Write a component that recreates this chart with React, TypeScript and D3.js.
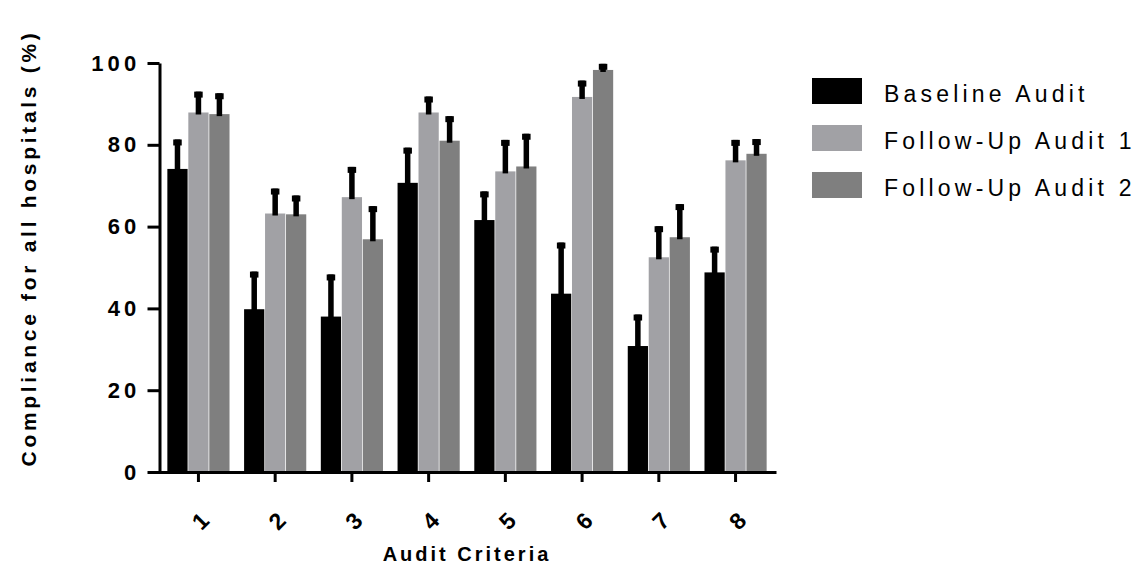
import { useEffect, useRef } from "react";
import * as d3 from "d3";

// audit criteria on the x axis
const categories = ["1", "2", "3", "4", "5", "6", "7", "8"];
const seriesNames = ["Baseline Audit", "Follow-Up Audit 1", "Follow-Up Audit 2"];
const seriesColors = ["#000000", "#A1A1A5", "#7F7F7F"];

// compliance (%) and upper error (SD) per criterion
const baseline = [74.1, 39.8, 38.0, 70.7, 61.6, 43.6, 30.8, 48.8];
const baselineErr = [7.2, 9.2, 10.3, 8.6, 7.0, 12.5, 7.7, 6.3];
const followUp1 = [87.9, 63.2, 67.2, 87.9, 73.5, 91.7, 52.5, 76.2];
const followUp1Err = [5.1, 6.1, 7.4, 3.9, 7.7, 4.0, 7.6, 5.0];
const followUp2 = [87.5, 63.0, 56.9, 81.0, 74.7, 98.3, 57.4, 77.8];
const followUp2Err = [5.1, 4.6, 8.1, 6.0, 8.0, 1.5, 8.1, 3.6];

const yTicks = [0, 20, 40, 60, 80, 100];

const FONT = "'Liberation Sans', Arial, Helvetica, sans-serif";

export default function App() {
  const ref = useRef<SVGSVGElement>(null);

  useEffect(() => {
    const width = 1142,
      height = 583;
    const svg = d3.select(ref.current).attr("width", width).attr("height", height);
    svg.selectAll("*").remove();

    const values = [baseline, followUp1, followUp2];
    const errors = [baselineErr, followUp1Err, followUp2Err];

    const y = d3.scaleLinear().domain([0, 100]).range([472, 63]);
    const x0 = d3
      .scaleBand()
      .domain(categories)
      .range([158, 776])
      .paddingInner(0.19)
      .paddingOuter(0.122);
    const x1 = d3
      .scaleBand()
      .domain(seriesNames)
      .range([0, x0.bandwidth()])
      .paddingInner(0.035);

    // bars
    const groups = svg
      .append("g")
      .selectAll("g")
      .data(categories)
      .enter()
      .append("g")
      .attr("transform", (d) => "translate(" + x0(d) + ",0)");

    seriesNames.forEach((name, s) => {
      groups
        .append("rect")
        .attr("x", x1(name)!)
        .attr("y", (d, i) => y(values[s][i]))
        .attr("width", x1.bandwidth())
        .attr("height", (d, i) => y(0) - y(values[s][i]))
        .attr("fill", seriesColors[s]);
    });

    // error bars (upper only)
    seriesNames.forEach((name, s) => {
      const cx = x1(name)! + x1.bandwidth() / 2;
      groups
        .append("rect")
        .attr("x", cx - 2.75)
        .attr("y", (d, i) => y(values[s][i] + errors[s][i]))
        .attr("width", 5.5)
        .attr("height", (d, i) => y(values[s][i]) - y(values[s][i] + errors[s][i]) + 2)
        .attr("fill", "#000");
      groups
        .append("rect")
        .attr("x", cx - 4.25)
        .attr("y", (d, i) => y(values[s][i] + errors[s][i]))
        .attr("width", 8.5)
        .attr("height", 6)
        .attr("fill", "#000");
    });

    // y axis
    const yAxis = svg
      .append("g")
      .attr("transform", "translate(159.5,0)")
      .call(d3.axisLeft(y).tickValues(yTicks).tickSize(12).tickSizeOuter(0));
    yAxis.selectAll("path, line").attr("stroke", "#000").attr("stroke-width", 3);
    yAxis
      .selectAll("text")
      .attr("font-family", FONT)
      .attr("font-size", 22)
      .attr("font-weight", "bold")
      .attr("letter-spacing", 4.2)
      .attr("fill", "#000")
      .attr("x", -19);

    // x axis
    const xAxis = svg
      .append("g")
      .attr("transform", "translate(0,472)")
      .call(d3.axisBottom(x0).tickSize(10).tickSizeOuter(0));
    xAxis.selectAll("path, line").attr("stroke", "#000").attr("stroke-width", 3);
    xAxis
      .selectAll("text")
      .attr("font-family", FONT)
      .attr("font-size", 23)
      .attr("font-weight", "bold")
      .attr("fill", "#000")
      .attr("text-anchor", "middle")
      .attr("x", 0)
      .attr("y", 0)
      .attr("dy", "0.35em")
      .attr("transform", "translate(2,49) rotate(-45)");

    // axis titles
    svg
      .append("text")
      .attr("transform", "translate(36,248) rotate(-90)")
      .attr("text-anchor", "middle")
      .attr("font-family", FONT)
      .attr("font-size", 21)
      .attr("font-weight", "bold")
      .attr("letter-spacing", 3.7)
      .text("Compliance for all hospitals (%)");

    svg
      .append("text")
      .attr("x", 467)
      .attr("y", 561)
      .attr("text-anchor", "middle")
      .attr("font-family", FONT)
      .attr("font-size", 20)
      .attr("font-weight", "bold")
      .attr("letter-spacing", 3)
      .text("Audit Criteria");

    // legend
    const legend = svg
      .append("g")
      .selectAll("g")
      .data(seriesNames)
      .enter()
      .append("g")
      .attr("transform", (d, i) => "translate(812," + (78 + i * 47) + ")");
    legend
      .append("rect")
      .attr("width", 50)
      .attr("height", 26)
      .attr("fill", (d, i) => seriesColors[i]);
    legend
      .append("text")
      .attr("x", 72)
      .attr("y", 24)
      .attr("font-family", FONT)
      .attr("font-size", 23)
      .attr("letter-spacing", 4.2)
      .attr("fill", "#000")
      .text((d) => d);
  }, []);

  return <svg ref={ref} style={{ position: "absolute", left: 0, top: 0 }} />;
}
